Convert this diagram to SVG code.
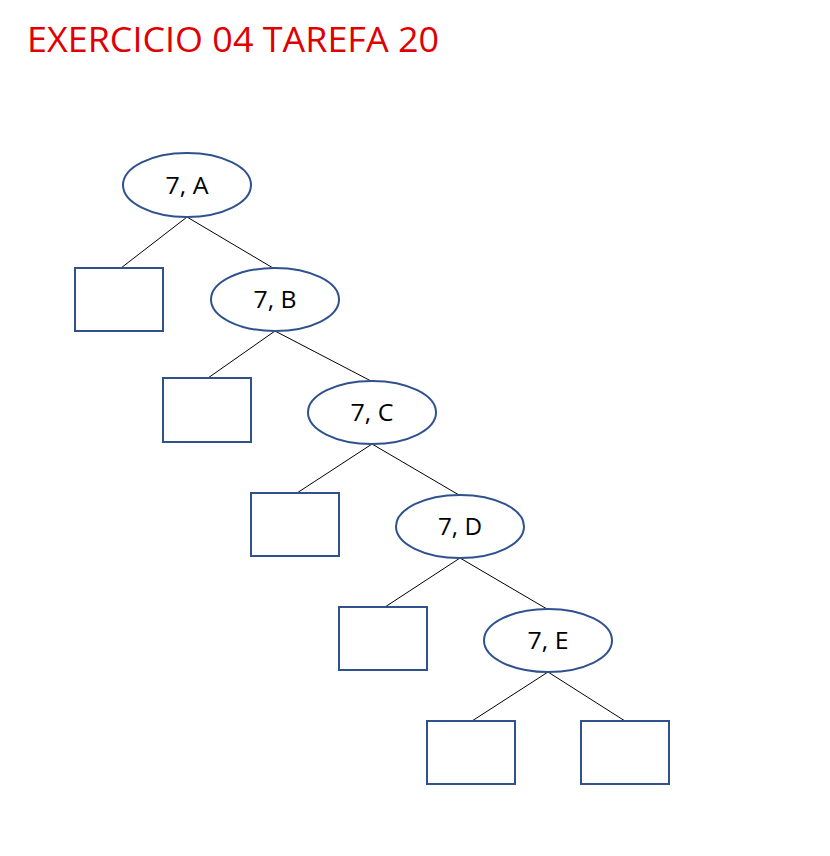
<svg xmlns="http://www.w3.org/2000/svg" width="830" height="856" viewBox="0 0 830 856">
<style>
.node{fill:#fff;stroke:#2F528F;stroke-width:2}
.lbl{font-family:"Open Sans","Liberation Sans",sans-serif;font-size:24px;fill:#000;text-anchor:middle}
.edge{stroke:#000;stroke-width:1;fill:none}
.title{font-family:"Open Sans","Liberation Sans",sans-serif;font-size:35px;fill:#E00000}
</style>
<rect width="830" height="856" fill="#fff"/>
<text class="title" x="27" y="52" textLength="412" lengthAdjust="spacingAndGlyphs">EXERCICIO 04 TAREFA 20</text>
<g id="edges">
<line class="edge" x1="187" y1="217" x2="121" y2="268"/>
<line class="edge" x1="187" y1="217" x2="273" y2="268"/>
<line class="edge" x1="275" y1="331" x2="208" y2="378"/>
<line class="edge" x1="275" y1="331" x2="371" y2="381"/>
<line class="edge" x1="372" y1="444" x2="297" y2="493"/>
<line class="edge" x1="372" y1="444" x2="459" y2="495"/>
<line class="edge" x1="460" y1="558" x2="385" y2="607"/>
<line class="edge" x1="460" y1="558" x2="547" y2="609"/>
<line class="edge" x1="548" y1="672" x2="472" y2="721"/>
<line class="edge" x1="548" y1="672" x2="625" y2="721"/>
</g>
<g id="nA"><ellipse class="node" cx="187" cy="185" rx="64" ry="32"/><text class="lbl" x="187" y="194" textLength="43" lengthAdjust="spacingAndGlyphs">7, A</text></g>
<g id="nB"><ellipse class="node" cx="275" cy="299.5" rx="64" ry="31.5"/><text class="lbl" x="275" y="308" textLength="43" lengthAdjust="spacingAndGlyphs">7, B</text></g>
<g id="nC"><ellipse class="node" cx="372" cy="412.5" rx="64" ry="31.5"/><text class="lbl" x="372" y="421" textLength="43" lengthAdjust="spacingAndGlyphs">7, C</text></g>
<g id="nD"><ellipse class="node" cx="460" cy="526.5" rx="64" ry="31.5"/><text class="lbl" x="460" y="535" textLength="44" lengthAdjust="spacingAndGlyphs">7, D</text></g>
<g id="nE"><ellipse class="node" cx="548" cy="640.5" rx="64" ry="31.5"/><text class="lbl" x="548" y="649" textLength="41" lengthAdjust="spacingAndGlyphs">7, E</text></g>
<g id="b1"><rect class="node" x="75" y="268" width="88" height="63"/></g>
<g id="b2"><rect class="node" x="163" y="378" width="88" height="64"/></g>
<g id="b3"><rect class="node" x="251" y="493" width="88" height="63"/></g>
<g id="b4"><rect class="node" x="339" y="607" width="88" height="63"/></g>
<g id="b5"><rect class="node" x="427" y="721" width="88" height="63"/></g>
<g id="b6"><rect class="node" x="581" y="721" width="88" height="63"/></g>
</svg>
